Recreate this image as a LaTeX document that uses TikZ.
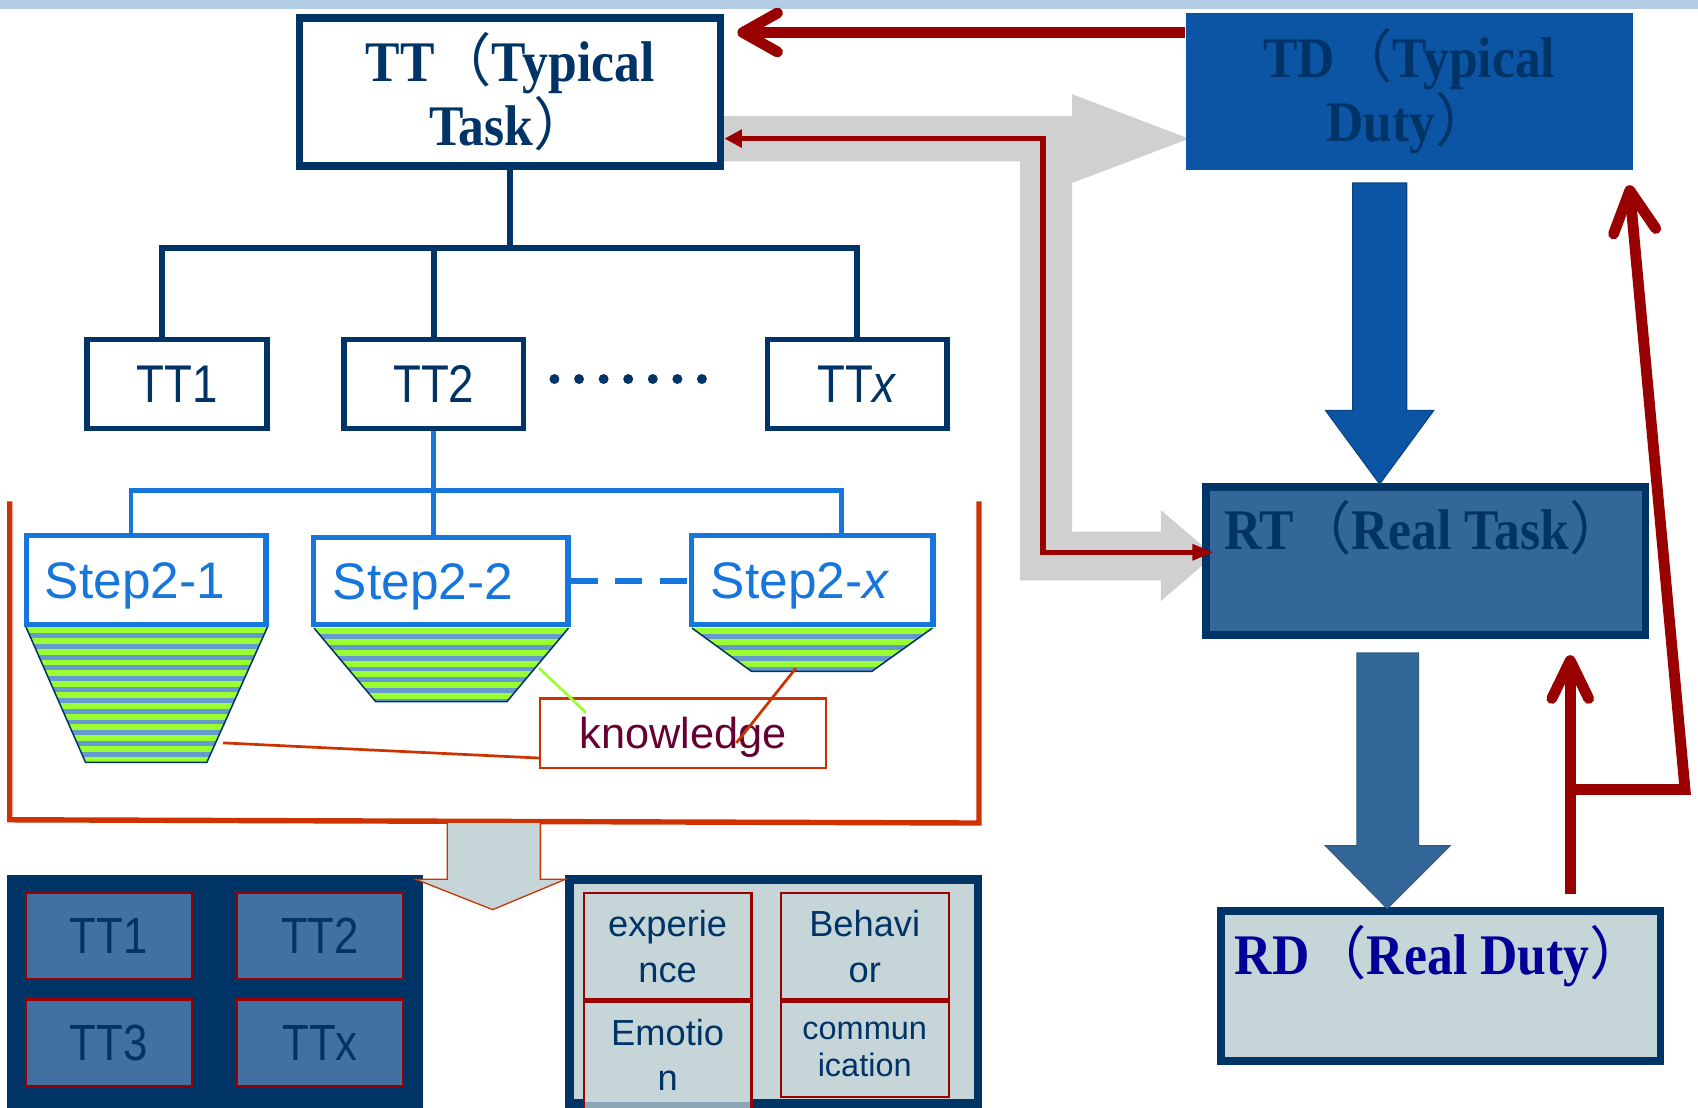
\documentclass[tikz,border=0pt]{standalone}
\usepackage{fontspec}
\usetikzlibrary{arrows.meta,calc}
\setmainfont{Liberation Sans}
\newfontfamily\ttsans[FakeStretch=0.86]{Liberation Sans}
\newfontfamily\stsans[FakeStretch=1.0]{Liberation Sans}
\newfontfamily\plsans{Liberation Sans}
\newfontfamily\bserif[FakeStretch=0.9]{Liberation Serif}
\newfontfamily\cjkf{Noto Sans CJK SC}
\newcommand\fwL{{\cjkf\mdseries （}}
\newcommand\fwR{{\cjkf\mdseries ）}}
\definecolor{navy}{HTML}{003366}
\definecolor{tdblue}{HTML}{0C54A4}
\definecolor{rtblue}{HTML}{336699}
\definecolor{darkred}{HTML}{990000}
\definecolor{garrow}{HTML}{D0D0D0}
\definecolor{bblue}{HTML}{1776DC}
\definecolor{ored}{HTML}{CC3300}
\definecolor{lgray}{HTML}{C6D5D8}
\definecolor{sgreen}{HTML}{99FF33}
\definecolor{sblue}{HTML}{6699CC}
\definecolor{cellblue}{HTML}{4170A3}
\definecolor{maroon}{HTML}{660033}
\definecolor{rdtext}{HTML}{000099}
\definecolor{topband}{HTML}{B3CDE5}
\definecolor{stripd}{HTML}{8CA6B8}
\begin{document}
\begin{tikzpicture}[x=0.5pt,y=-0.5pt,
  serift/.style={font=\bserif\bfseries\fontsize{26.5}{29.5}\selectfont},
  tbox/.style={draw=navy, line width=2.5pt, fill=white, minimum width=83pt, minimum height=41pt, inner sep=0pt, text=navy, font=\ttsans\fontsize{24.5}{28}\selectfont},
  stepbox/.style={draw=bblue, line width=2.5pt, fill=white, minimum height=41pt, inner sep=0pt},
  steptext/.style={text=bblue, font=\stsans\fontsize{23.75}{28}\selectfont, inner sep=0pt, anchor=base west},
  navyline/.style={navy, line width=2.75pt},
  blueline/.style={bblue, line width=2.25pt},
  redthick/.style={darkred, line width=5pt},
  chev/.style={darkred, line width=5pt, line cap=round, line join=round},
  cellbox/.style={draw=darkred, line width=1pt, fill=cellblue, minimum width=76.5pt, minimum height=39.5pt, inner sep=0pt, text=navy, font=\ttsans\fontsize{23.5}{27}\selectfont},
  lcell/.style={draw=darkred, line width=1pt, fill=lgray, minimum width=77.5pt, inner sep=0pt, align=center, text=navy, font=\plsans\fontsize{16.75}{21}\selectfont}
]
\useasboundingbox (0,0) rectangle (1568,1023);
\fill[topband] (0,0) rectangle (1568,8.5);

% gray elbow arrow
\fill[garrow] (667,107) -- (990,107) -- (990,87) -- (1098,128) -- (990,169) -- (990,491)
  -- (1072,491) -- (1072,471) -- (1121,513) -- (1072,555) -- (1072,536) -- (942,536)
  -- (942,149) -- (667,149) -- cycle;

% main boxes
\node[draw=navy, line width=3.5pt, fill=white, minimum width=194.5pt, minimum height=68.5pt, inner sep=0pt, align=center, text=navy, serift] (TT) at (471,85) {TT\fwL Typical\\Task\fwR};
\node[fill=tdblue, minimum width=206.5pt, minimum height=72.5pt, inner sep=0pt, align=center, text=navy, serift] (TD) at (1301.5,84.5) {TD\fwL Typical\\Duty\fwR};
\node[draw=navy, line width=3.5pt, fill=rtblue, minimum width=203pt, minimum height=68.5pt] (RT) at (1316.5,518) {};
\node[anchor=base west, inner sep=0pt, text=navy, serift] (RTt) at (1130,507) {RT\fwL Real Task\fwR};
\node[draw=navy, line width=3.5pt, fill=lgray, minimum width=203pt, minimum height=69pt] (RD) at (1330.5,910.5) {};
\node[anchor=base west, inner sep=0pt, text=rdtext, serift] (RDt) at (1140,900) {RD\fwL Real Duty\fwR};

% thin red connector
\draw[darkred, line width=2.5pt, {Triangle[length=8pt,width=8pt]}-{Triangle[length=10pt,width=7pt]}]
  (TT.east |- 0,128) -- (963,128) -- (963,510) -- ([xshift=5.5pt]RT.west |- 0,510);

% top thick red arrow TD -> TT
\coordinate (tipA) at (686,30);
\draw[redthick] (TD.west |- tipA) -- (tipA);
\draw[chev] ($(tipA)+(32,-18)$) -- (tipA) -- ($(tipA)+(32,18)$);

% blue block arrow TD -> RT
\filldraw[fill=tdblue, draw=tdblue!80!black, line width=0.5pt] (1249,169) -- (1299,169) -- (1299,379) -- (1324,379) -- (1274,447) -- (1224,379) -- (1249,379) -- cycle;
% block arrow RT -> RD
\filldraw[fill=rtblue, draw=navy!80, line width=0.5pt] (1253,603) -- (1310,603) -- (1310,781) -- (1339,781) -- (1281,839) -- (1224,781) -- (1253,781) -- cycle;

% red feedback RD -> RT and -> TD
\coordinate (tipB) at (1450,610);
\coordinate (tipC) at (1505,176);
\draw[redthick] (1450,826) -- (tipB);
\draw[chev] (1433,645) -- (tipB) -- (1467,645);
\draw[redthick, line join=miter] (1450,729) -- (1556,729) -- (tipC);
\draw[chev] (1490,216) -- (tipC) -- (1529,211);

% TT children
\node[tbox] (TT1) at (163.5,354.5) {TT1};
\node[tbox] (TT2) at (400.5,354.5) {TT2};
\node[tbox] (TTx) at (791.5,354.5) {TT\textit{x}};
\coordinate (J1) at (471,229);
\draw[navyline] (TT.south) -- (J1);
\draw[navyline] (J1) -| ([xshift=-6.75pt]TT1.north);
\draw[navyline] (J1) -| (TT2.north);
\draw[navyline] (J1) -| (TTx.north);
\foreach \k in {0,...,6} \fill[navy] (512+22.7*\k,350) circle (2.3pt);

% funnels
\foreach \a/\b/\c/\d/\yt/\yb in {24/247/191/79/579/704, 290/525/468/347/580/648, 639/861/805/694/580/620} {
  \begin{scope}
    \clip (\a,\yt) -- (\b,\yt) -- (\c,\yb) -- (\d,\yb) -- cycle;
    \fill[sblue] (\a,\yt) rectangle (\b,\yb);
    \foreach \i in {0,...,13} \fill[sgreen] (\a,\yt+10*\i) rectangle (\b,\yt+10*\i+5.5);
  \end{scope}
  \draw[navy, line width=0.7pt] (\a,\yt) -- (\d,\yb) -- (\c,\yb) -- (\b,\yt);
}

% step boxes
\node[stepbox, minimum width=110.5pt] (S1) at (135,535.5) {};
\node[stepbox, minimum width=117.5pt, minimum height=40pt] (S2) at (407,536.5) {};
\node[stepbox, minimum width=111.5pt] (S3) at (750,535.5) {};
\node[steptext] (S1t) at (41,553) {Step2-1};
\node[steptext] (S2t) at (307,554) {Step2-2};
\node[steptext] (S3t) at (656,553) {Step2-\textit{x}};
\coordinate (J2) at (400.5,453);
\draw[blueline] (TT2.south) -- (J2);
\draw[blueline] (J2) -| ([xshift=-7pt]S1.north);
\draw[blueline] (J2) -- (J2 |- S2.north);
\draw[blueline] (J2) -| ([xshift=13.5pt]S3.north);
\draw[bblue, line width=3pt, dash pattern=on 12.5pt off 8pt] (S2.east) -- (S2.east -| S3.west);

% knowledge
\node[draw=ored, line width=1pt, fill=white, minimum width=132pt, minimum height=32pt, inner sep=0pt, text depth=0pt, text=maroon, font=\plsans\fontsize{20}{24}\selectfont] (Kn) at (631,677) {knowledge};
\draw[ored, line width=1.25pt] (206,686) -- (Kn.west |- 0,700);
\draw[sgreen, line width=1.25pt] (498,617) -- (541,658);
\draw[ored, line width=1.25pt] (735,617) -- (680,686);

% bracket
\draw[ored, line width=2.5pt] (9,463) -- (9,757) -- (904,760) -- (904,463);

% bottom left block
\node[fill=navy, minimum width=192pt, minimum height=107.5pt, inner sep=0pt, anchor=north west] (BL) at (6,808) {};
\node[cellbox] (C1) at (100.5,864.5) {TT1};
\node[cellbox] (C2) at (295.5,864.5) {TT2};
\node[cellbox, minimum height=40pt] (C3) at (100.5,963) {TT3};
\node[cellbox, minimum height=40pt] (C4) at (295.5,963) {TTx};

% bottom right block
\node[draw=navy, line width=4pt, fill=lgray, minimum width=188.5pt, minimum height=103.5pt, inner sep=0pt] (BR) at (714.5,915.5) {};
\node[lcell, minimum height=49pt] (E1) at (616.5,874) {experie\\nce};
\node[lcell, minimum height=49pt] (E2) at (798.5,874) {Behavi\\or};
\node[lcell, minimum height=49pt] (E3) at (616.5,974) {Emotio\\n};
\node[lcell, minimum height=44pt, font=\plsans\fontsize{15}{17.25}\selectfont] (E4) at (798.5,969) {commun\\ication};
\fill[stripd] (540,1017.5) rectangle (693,1023);

% gray down arrow
\filldraw[fill=lgray, draw=ored, line width=0.6pt] (413,760) -- (413,812) -- (384,812) -- (455,840) -- (522,812) -- (499,812) -- (499,760);
\end{tikzpicture}
\end{document}
